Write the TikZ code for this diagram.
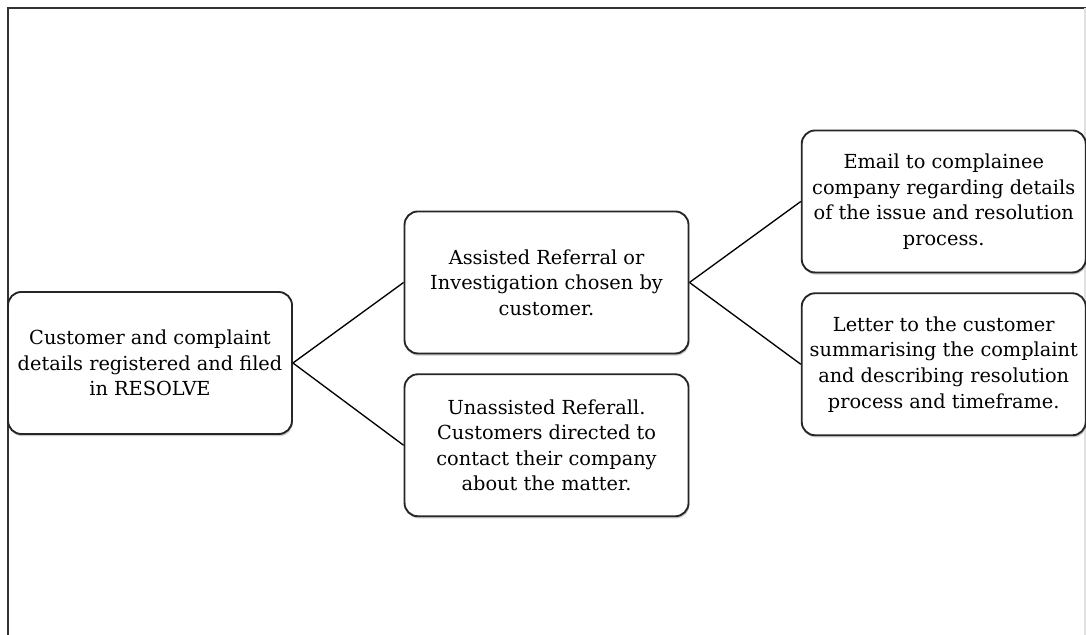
\documentclass[tikz,border=0pt]{standalone}
\usepackage{fontspec}
\setmainfont{DejaVu Serif}
\usetikzlibrary{positioning,shadows}

\begin{document}
\begin{tikzpicture}[
  x=0.75pt, y=-0.75pt,
  font=\fontsize{14.5}{19.2}\selectfont,
  stage/.style={rectangle, rounded corners=10pt, draw=black!85, line width=1.4pt, fill=white,
                minimum width=213pt, minimum height=106.5pt, align=center, inner sep=2pt,
                drop shadow={shadow xshift=0.6pt, shadow yshift=-1.6pt, opacity=0.35, fill=black!60}},
  link/.style={draw=black, line width=1pt},
  frame/.style={draw=black!80, line width=1.6pt},
]
\useasboundingbox (0,0) rectangle (1086,635);

% page frame, only top and left edges show
\draw[frame] (8,635) -- (8,8) -- (1086,8);
\draw[draw=black!12, line width=0.8pt] (1085,8) -- (1085,635);

\node[stage] (reg) at (150,363) {Customer and complaint\\details registered and filed\\in RESOLVE};
\node[stage, right=83pt of reg, yshift=60.4pt] (assist) {Assisted Referral or\\Investigation chosen by\\customer.};
\node[stage, below=14.2pt of assist] (unassist) {Unassisted Referall.\\Customers directed to\\contact their company\\about the matter.};
\node[stage, right=83.5pt of assist, yshift=60.75pt] (email) {Email to complainee\\company regarding details\\of the issue and resolution\\process.};
\node[stage, below=14.2pt of email] (letter) {Letter to the customer\\summarising the complaint\\and describing resolution\\process and timeframe.};

\draw[link] (reg.east) -- (assist.west);
\draw[link] (reg.east) -- (unassist.west);
\draw[link] (assist.east) -- (email.west);
\draw[link] (assist.east) -- (letter.west);

\end{tikzpicture}
\end{document}
